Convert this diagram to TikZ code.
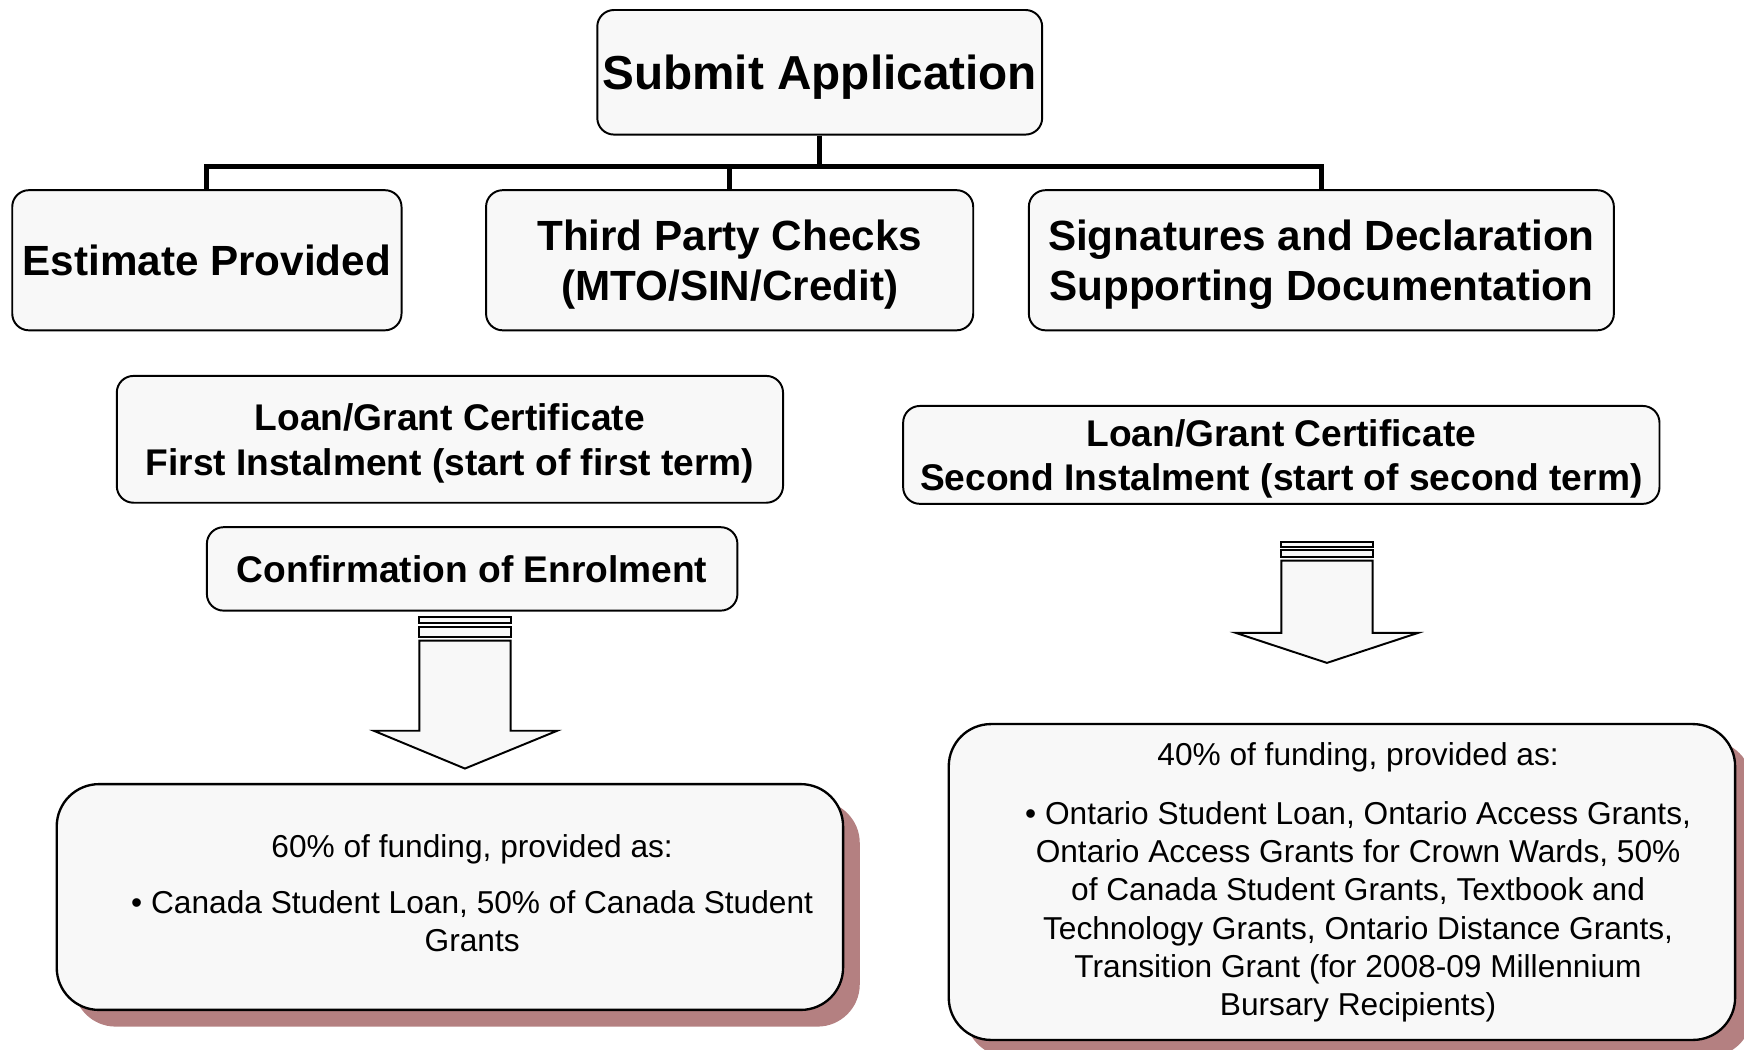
\documentclass[tikz,border=0pt]{standalone}
\usepackage{fontspec}
\setmainfont{Liberation Sans}
\usetikzlibrary{shadows}
\definecolor{boxgray}{RGB}{248,248,248}
\definecolor{shadowrose}{RGB}{180,128,129}

\begin{document}
\begin{tikzpicture}[
    stagebox/.style={draw=black, fill=boxgray, rounded corners=0.15cm, line width=0.5pt, inner sep=0pt, align=center, text depth=0pt},
    fundbox/.style={draw=black, fill=boxgray, rounded corners=0.38cm, line width=0.6pt,
      drop shadow={shadow xshift=0.15cm, shadow yshift=-0.15cm, fill=shadowrose, opacity=1}},
    toptext/.style={font=\fontsize{12.2}{14.6}\selectfont\bfseries},
    steptext/.style={font=\fontsize{10.8}{12.8}\selectfont\bfseries},
    certtext/.style={font=\fontsize{9.5}{11.4}\selectfont\bfseries},
    fundtext/.style={font=\fontsize{8.1}{9.75}\selectfont, align=center, inner sep=0pt},
    bus/.style={line width=1.3pt},
    blockarrow/.style={draw=black, fill=boxgray, line width=0.5pt, line join=miter}
  ]
  \useasboundingbox (0,0) rectangle (15.68,9.44);
  % application and the three checks
  \node[stagebox, toptext, minimum width=4cm, minimum height=1.12cm] (submit) at (7.37,8.79) {Submit Application};
  \node[stagebox, steptext, minimum width=3.5cm, minimum height=1.26cm] (estimate) at (1.86,7.10) {Estimate Provided};
  \node[stagebox, steptext, minimum width=4.38cm, minimum height=1.26cm] (checks) at (6.56,7.10) {Third Party Checks\\(MTO/SIN/Credit)};
  \node[stagebox, steptext, minimum width=5.26cm, minimum height=1.26cm] (signatures) at (11.88,7.10) {Signatures and Declaration\\Supporting Documentation};
  \coordinate (junction) at (7.37,7.94);
  \draw[bus] (submit.south) -- (junction);
  \draw[bus] (estimate.north) |- (junction) -| (signatures.north);
  \draw[bus] (checks.north) -- (checks.north |- junction);
  % certificates
  \node[stagebox, certtext, minimum width=5.99cm, minimum height=1.14cm] (firstcert) at (4.045,5.49) {Loan/Grant Certificate\\First Instalment (start of first term)};
  \node[stagebox, certtext, minimum width=4.77cm, minimum height=0.75cm] (enrolment) at (4.245,4.325) {Confirmation of Enrolment};
  \node[stagebox, certtext, minimum width=6.80cm, minimum height=0.88cm] (secondcert) at (11.52,5.35) {Loan/Grant Certificate\\Second Instalment (start of second term)};
  % block arrows
  \draw[blockarrow] (3.77,3.89) rectangle (4.59,3.84);
  \draw[blockarrow] (3.77,3.80) rectangle (4.59,3.71);
  \draw[blockarrow] (3.77,3.68) -- (3.77,2.87) -- (3.36,2.87) -- (4.18,2.53) -- (5.01,2.87) -- (4.59,2.87) -- (4.59,3.68) -- cycle;
  \draw[blockarrow] (11.52,4.57) rectangle (12.34,4.525);
  \draw[blockarrow] (11.52,4.495) rectangle (12.34,4.43);
  \draw[blockarrow] (11.52,4.40) -- (11.52,3.75) -- (11.11,3.75) -- (11.93,3.48) -- (12.75,3.75) -- (12.34,3.75) -- (12.34,4.40) -- cycle;
  % funding boxes
  \node[fundbox, minimum width=7.07cm, minimum height=2.03cm] (firstfund) at (4.045,1.375) {};
  \node[fundtext] (firsttext) at (4.245,1.41) {60\% of funding, provided as:\\[4.5pt]
    \textbullet\ Canada Student Loan, 50\% of Canada Student\\Grants};
  \node[fundbox, minimum width=7.07cm, minimum height=2.84cm] (secondfund) at (12.065,1.51) {};
  \node[fundtext] (secondtext) at (12.21,1.51) {40\% of funding, provided as:\\[5.5pt]
    \textbullet\ Ontario Student Loan, Ontario Access Grants,\\
    Ontario Access Grants for Crown Wards, 50\%\\
    of Canada Student Grants, Textbook and\\
    Technology Grants, Ontario Distance Grants,\\
    Transition Grant (for 2008-09 Millennium\\
    Bursary Recipients)};
\end{tikzpicture}
\end{document}
